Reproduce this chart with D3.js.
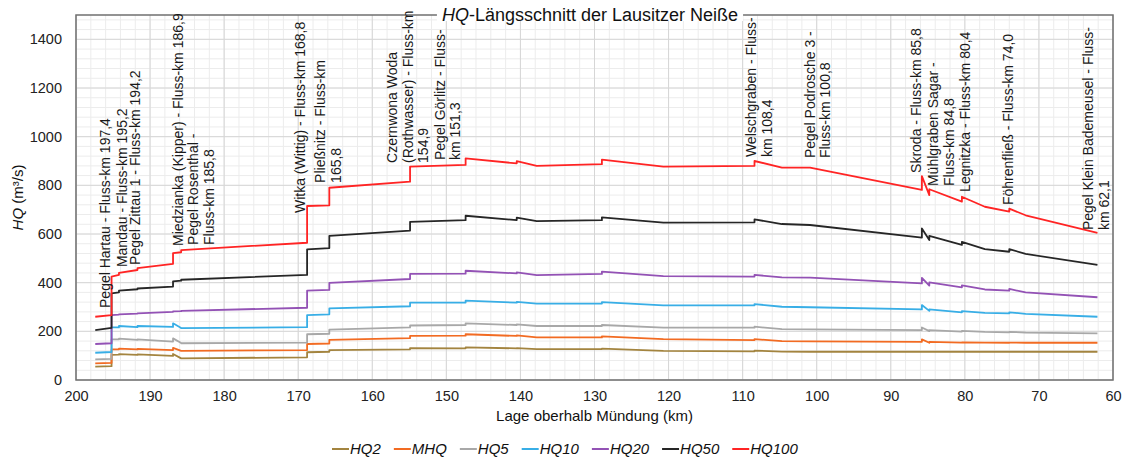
<!DOCTYPE html>
<html>
<head>
<meta charset="utf-8">
<script src="https://cdn.jsdelivr.net/npm/d3@7"></script>
<style>
  body { margin: 0; background: #fff; }
  svg { display: block; font-family: Arial, "Liberation Sans", sans-serif; }
</style>
</head>
<body>
<svg id="chart" width="1128" height="462"></svg>
<script>
// River kilometre of each profile point (duplicates mark steps at inflows / gauges)
const km = [197.4, 195.2, 195.2, 194.2, 194.2, 191.7, 191.7, 186.9, 186.9, 185.8,
            185.8, 168.8, 168.8, 165.8, 165.8, 154.9, 154.9, 147.4, 147.4, 140.5,
            140.5, 137.8, 129.0, 129.0, 120.7, 108.4, 108.4, 104.7, 100.9, 85.8,
            85.8, 84.8, 84.8, 80.4, 80.4, 77.3, 74.0, 74.0, 71.8, 62.1];

// Discharge values (m³/s) per statistic
const hq2   = [55, 57, 103, 104, 106, 103, 105, 99, 107, 89,
               89, 93, 114, 116, 123, 126, 131, 130, 134, 130,
               131, 127, 127, 129, 120, 118, 121, 117, 116, 116,
               117, 116, 116, 116, 116, 116, 116, 116, 116, 116];
const mhq   = [68, 70, 126, 126, 129, 126, 128, 123, 132, 120,
               120, 123, 148, 150, 165, 172, 181, 182, 188, 181,
               183, 175, 175, 179, 168, 164, 168, 160, 159, 157,
               167, 153, 157, 154, 155, 154, 153, 154, 153, 153];
const hq5   = [85, 87, 167, 167, 170, 165, 167, 158, 171, 152,
               151, 154, 188, 190, 207, 216, 224, 226, 233, 226,
               229, 222, 222, 226, 215, 215, 219, 209, 208, 205,
               216, 201, 205, 199, 202, 198, 196, 198, 195, 192];
const hq10  = [112, 115, 216, 216, 222, 217, 222, 218, 233, 214,
               213, 217, 267, 270, 294, 303, 318, 318, 326, 318,
               321, 314, 314, 320, 307, 307, 312, 301, 299, 290,
               308, 284, 290, 278, 283, 276, 274, 278, 272, 260];
const hq20  = [148, 151, 267, 269, 270, 273, 274, 280, 282, 283,
               284, 297, 367, 370, 399, 415, 436, 437, 449, 438,
               442, 431, 436, 445, 427, 425, 432, 422, 421, 397,
               420, 388, 401, 381, 389, 372, 367, 374, 360, 340];
const hq50  = [205, 214, 356, 360, 367, 373, 376, 384, 405, 408,
               412, 432, 537, 542, 592, 614, 650, 657, 675, 657,
               667, 653, 657, 668, 647, 648, 660, 641, 637, 585,
               623, 575, 592, 555, 568, 538, 527, 538, 518, 473];
const hq100 = [260, 267, 425, 432, 440, 452, 460, 477, 521, 525,
               534, 564, 715, 718, 790, 815, 877, 884, 911, 890,
               899, 880, 887, 906, 877, 880, 900, 873, 873, 781,
               838, 760, 784, 733, 753, 712, 692, 704, 677, 605];

const seriesNames = ["HQ2", "MHQ", "HQ5", "HQ10", "HQ20", "HQ50", "HQ100"];
const seriesValues = [hq2, mhq, hq5, hq10, hq20, hq50, hq100];
const seriesColors = ["#a3843f", "#f26b22", "#a8a8a8", "#38aee6", "#9352b5", "#262626", "#ff2424"];

const xTicks = [200, 190, 180, 170, 160, 150, 140, 130, 120, 110, 100, 90, 80, 70, 60];
const yTicks = [0, 200, 400, 600, 800, 1000, 1200, 1400];

// Inflows and gauges along the river
const siteKm = [197.4, 195.2, 194.2, 186.9, 185.8, 168.8, 165.8, 154.9, 151.3,
                108.4, 100.8, 85.8, 84.8, 80.4, 74.0, 62.1];
const siteText = [
  ["Pegel Hartau - Fluss-km 197,4"],
  ["Mandau - Fluss-km 195,2"],
  ["Pegel Zittau 1 - Fluss-km 194,2"],
  ["Miedzianka (Kipper) - Fluss-km 186,9"],
  ["Pegel Rosenthal -", "Fluss-km 185,8"],
  ["Witka (Wittig) - Fluss-km 168,8"],
  ["Pließnitz - Fluss-km", "165,8"],
  ["Czernwona Woda", "(Rothwasser) - Fluss-km", "154,9"],
  ["Pegel Görlitz - Fluss-", "km 151,3"],
  ["Welschgraben - Fluss-", "km 108,4"],
  ["Pegel Podrosche 3 -", "Fluss-km 100,8"],
  ["Skroda - Fluss-km 85,8"],
  ["Mühlgraben Sagar -", "Fluss-km 84,8"],
  ["Legnitzka - Fluss-km 80,4"],
  ["Föhrenfließ - Fluss-km 74,0"],
  ["Pegel Klein Bademeusel - Fluss-", "km 62,1"]
];
// Label placement: horizontal pixel shift of the first column, and the
// discharge level where the rotated text starts
const labelDx   = [10, 10, 16, 5, 12, -7, -9, -18, 3, -3, -1, -6, 4, 3, -1, -9];
const labelBase = [296, 464, 473, 551, 555, 686, 810, 892, 904, 916, 912, 851, 797, 773, 719, 616];

const svg = d3.select("#chart");
const m = { left: 76, right: 1113, top: 15, bottom: 380 };

const x = d3.scaleLinear().domain([200, 60]).range([m.left, m.right]);
const y = d3.scaleLinear().domain([0, 1500]).range([m.bottom, m.top]);

// Grid: minor every 2 km / 40 m³/s, major every 10 km / 200 m³/s
const grid = svg.append("g");
grid.selectAll("line.vmin").data(d3.range(200, 59, -2)).join("line")
  .attr("x1", d => x(d)).attr("x2", d => x(d)).attr("y1", m.top).attr("y2", m.bottom)
  .attr("stroke", "#ececec").attr("stroke-width", 1);
grid.selectAll("line.hmin").data(d3.range(0, 1501, 40)).join("line")
  .attr("x1", m.left).attr("x2", m.right).attr("y1", d => y(d)).attr("y2", d => y(d))
  .attr("stroke", "#ececec").attr("stroke-width", 1);
grid.selectAll("line.vmaj").data(xTicks).join("line")
  .attr("x1", d => x(d)).attr("x2", d => x(d)).attr("y1", m.top).attr("y2", m.bottom)
  .attr("stroke", "#d6d6d6").attr("stroke-width", 1);
grid.selectAll("line.hmaj").data(yTicks).join("line")
  .attr("x1", m.left).attr("x2", m.right).attr("y1", d => y(d)).attr("y2", d => y(d))
  .attr("stroke", "#d6d6d6").attr("stroke-width", 1);

// Axes (labels only, the frame is drawn separately)
const xAxis = svg.append("g").attr("transform", `translate(0,${m.bottom})`)
  .call(d3.axisBottom(x).tickValues(xTicks).tickSize(0).tickPadding(11).tickFormat(d3.format("d")));
const yAxis = svg.append("g").attr("transform", `translate(${m.left},0)`)
  .call(d3.axisLeft(y).tickValues(yTicks).tickSize(0).tickPadding(14).tickFormat(d3.format("d")));
[xAxis, yAxis].forEach(a => {
  a.select(".domain").remove();
  a.selectAll("text").attr("font-size", 14.5).attr("fill", "#222")
    .attr("font-family", "Arial, 'Liberation Sans', sans-serif");
});

// Series lines
const line = d3.line().x((d, i) => x(km[i])).y(d => y(d));
svg.append("g").selectAll("path").data(seriesValues).join("path")
  .attr("d", d => line(d))
  .attr("fill", "none")
  .attr("stroke", (d, i) => seriesColors[i])
  .attr("stroke-width", 1.8)
  .attr("stroke-linejoin", "round");

// Frame around the plot area
svg.append("rect")
  .attr("x", m.left).attr("y", m.top)
  .attr("width", m.right - m.left).attr("height", m.bottom - m.top)
  .attr("fill", "none").attr("stroke", "#707070").attr("stroke-width", 1.5);

// Site annotations (rotated, one column per text line)
const ann = svg.append("g").attr("font-size", 14).attr("fill", "#1a1a1a");
siteText.forEach((lines, k) => {
  lines.forEach((t, j) => {
    const cx = x(siteKm[k]) + labelDx[k] + j * 15.5;
    ann.append("text")
      .attr("transform", `translate(${cx + 5},${y(labelBase[k])}) rotate(-90)`)
      .attr("text-anchor", "start")
      .text(t);
  });
});

// Title with white backing over the top frame edge
const title = svg.append("g");
const titleText = title.append("text")
  .attr("x", 590).attr("y", 21).attr("text-anchor", "middle")
  .attr("font-size", 18).attr("fill", "#111");
titleText.append("tspan").attr("font-style", "italic").text("HQ");
titleText.append("tspan").text("-Längsschnitt der Lausitzer Neiße");
const tb = titleText.node().getBBox();
title.insert("rect", "text")
  .attr("x", tb.x - 5).attr("y", m.top - 4).attr("width", tb.width + 10).attr("height", 10)
  .attr("fill", "#fff");

// Axis titles
const yTitle = svg.append("text")
  .attr("transform", `translate(23,${(m.top + m.bottom) / 2}) rotate(-90)`)
  .attr("text-anchor", "middle").attr("font-size", 15).attr("fill", "#111");
yTitle.append("tspan").attr("font-style", "italic").text("HQ");
yTitle.append("tspan").text(" (m³/s)");

svg.append("text")
  .attr("x", x(130)).attr("y", 421).attr("text-anchor", "middle")
  .attr("font-size", 15).attr("fill", "#111")
  .text("Lage oberhalb Mündung (km)");

// Legend
const legend = svg.append("g").attr("font-size", 15).attr("font-style", "italic").attr("fill", "#111");
let lx = 332;
seriesNames.forEach((name, i) => {
  legend.append("line")
    .attr("x1", lx).attr("x2", lx + 17).attr("y1", 449).attr("y2", 449)
    .attr("stroke", seriesColors[i]).attr("stroke-width", 2);
  const t = legend.append("text").attr("x", lx + 18).attr("y", 454).text(name);
  lx += 18 + t.node().getComputedTextLength() + 13;
});
</script>
</body>
</html>
